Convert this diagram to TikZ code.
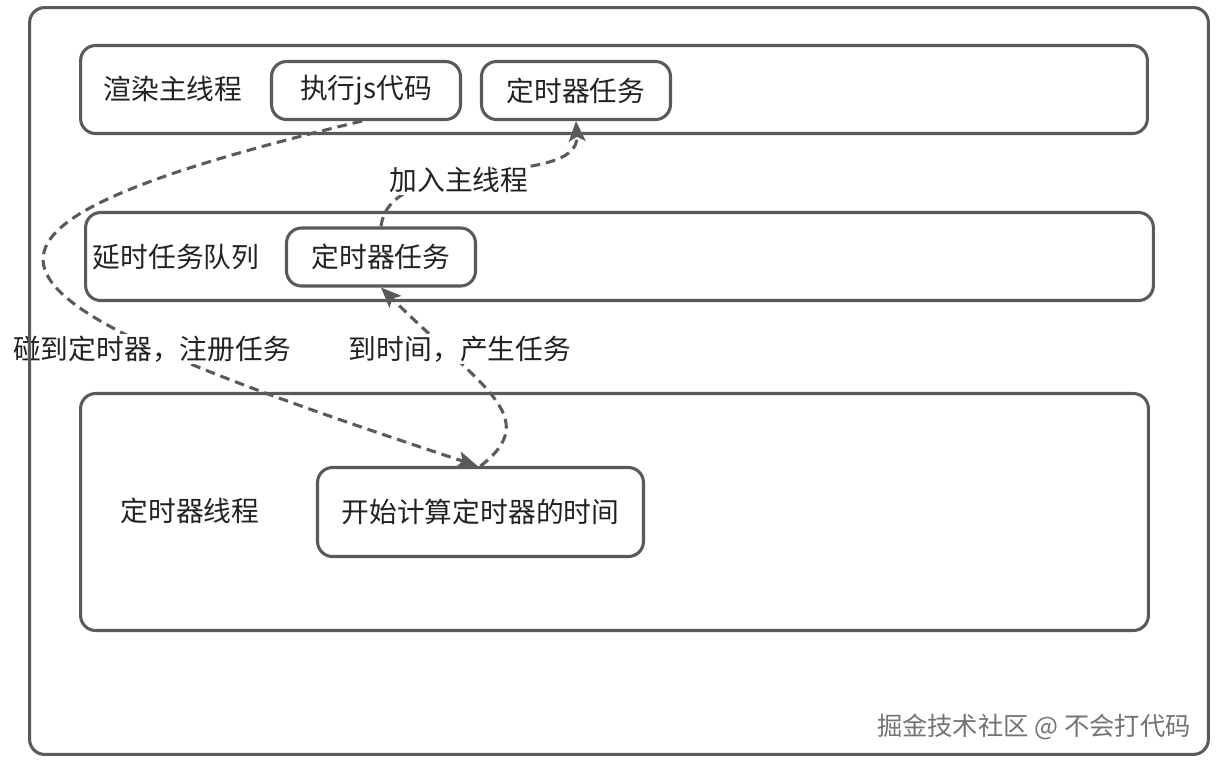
\documentclass[tikz,border=0pt]{standalone}
\usepackage{fontspec}
\setmainfont{Noto Sans CJK SC}
\usetikzlibrary{arrows.meta}
\definecolor{linegray}{HTML}{5A5A5A}
\definecolor{textgray}{HTML}{222222}

\begin{document}
\begin{tikzpicture}[
    x=0.02cm, y=-0.02cm,
    font=\fontsize{15.8}{19}\selectfont,
    text=textgray,
    line width=1.75pt,
    lane/.style 2 args={draw=linegray, rounded corners=0.3cm, minimum width=#1, minimum height=#2, inner sep=0pt},
    task/.style={draw=linegray, rounded corners=0.3cm, minimum width=3.78cm, minimum height=1.16cm, inner sep=0pt},
    flow/.style={draw=linegray, dash pattern=on 5.5pt off 3.4pt, -{Stealth[length=11.5pt, width=9.5pt, inset=2.5pt]}},
    tag/.style={fill=white, inner sep=1pt}
]
    \useasboundingbox (0,0) rectangle (1221,762);

    % Coordinates
    \coordinate (main_c)  at (614, 89.5);
    \coordinate (queue_c) at (619.5, 256.5);
    \coordinate (timer_c) at (614.5, 512);

    % Lanes
    \node[lane={21.34cm}{1.76cm}] (main)  at (main_c)  {};
    \node[lane={21.36cm}{1.76cm}] (queue) at (queue_c) {};
    \node[lane={21.36cm}{4.74cm}] (timer) at (timer_c) {};

    \node at (173, 89)  {渲染主线程};
    \node at (176, 257) {延时任务队列};
    \node at (190, 511) {定时器线程};

    % Tasks
    \node[task] (js)       at (366, 90.5) {执行js代码};
    \node[task] (maintask) at (576, 90.5) {定时器任务};
    \node[task] (qtask)    at (381, 257)  {定时器任务};
    \node[task, minimum width=6.52cm, minimum height=1.78cm] (calc) at (480.5, 512) {开始计算定时器的时间};

    % Flows
    \draw[flow] ([xshift=-0.08cm]js.south) .. controls (-125, 238) and (-25, 300) .. ([xshift=-0.06cm]calc.north);
    \draw[flow] (calc.north) .. controls (544, 417) and (481, 387) .. (qtask.south);
    \draw[flow] (qtask.north) .. controls (390, 150) and (580, 190) .. (maintask.south);

    % Flow labels
    \node[tag] (reg)   at (152, 349) {碰到定时器，注册任务};
    \node[tag] (due)   at (460, 349) {到时间，产生任务};
    \node[tag] (join)  at (459, 180) {加入主线程};

    % Outer frame
    \node[lane={23.58cm}{14.94cm}] (frame) at (619, 381) {};
    \node[anchor=east, text=black!55, font=\fontsize{14.4}{17}\selectfont] (mark) at (1198, 727) {掘金技术社区 @ 不会打代码};

\end{tikzpicture}
\end{document}
